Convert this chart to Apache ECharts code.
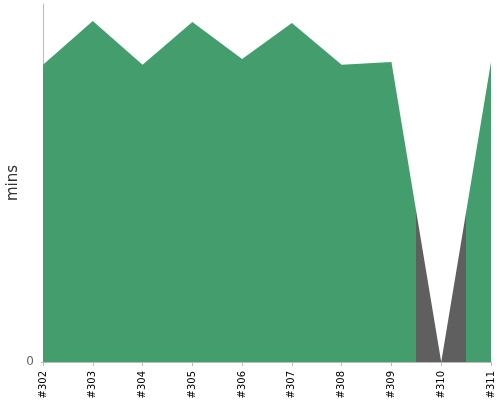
<!DOCTYPE html>
<html>
<head>
<meta charset="utf-8">
<script src="https://cdn.jsdelivr.net/npm/echarts@6/dist/echarts.min.js"></script>
<style>
  html, body { margin: 0; padding: 0; background: #fff; }
  #chart { width: 500px; height: 400px; }
</style>
</head>
<body>
<div id="chart"></div>
<script>
// build numbers and their durations in minutes
const builds = ['#302', '#303', '#304', '#305', '#306', '#307', '#308', '#309', '#310', '#311'];
const durations = [9.96, 11.43, 9.96, 11.40, 10.16, 11.36, 9.96, 10.06, 0, 10.06];
const failedBuilds = ['#310'];
const yTicks = [0];

const green = '#449d6c';
const gray = '#5f5f5f';

// gray band around each failed build, half a build on each side
// (value x axis so the half steps are not rounded to a category)
const pieces = failedBuilds.map(b => {
  const i = builds.indexOf(b);
  return { gt: i - 0.5, lte: i + 0.5, color: gray };
});

echarts.init(document.getElementById('chart')).setOption({
  animation: false,
  textStyle: { fontFamily: 'DejaVu Sans' },
  grid: { left: 43, right: 9, top: 4, bottom: 38, outerBoundsMode: 'none', containLabel: false },
  visualMap: {
    show: false,
    type: 'piecewise',
    seriesIndex: 0,
    dimension: 0,
    pieces: pieces,
    outOfRange: { color: green }
  },
  xAxis: {
    type: 'value',
    min: 0,
    max: builds.length - 1,
    interval: 1,
    offset: 3,
    splitLine: { show: false },
    axisLine: { lineStyle: { color: '#bbb' } },
    axisTick: { length: 4, lineStyle: { color: '#bbb' } },
    axisLabel: { rotate: 90, color: '#000', fontSize: 10, margin: 6, formatter: v => builds[v] || '' }
  },
  yAxis: {
    type: 'value',
    name: 'mins',
    nameLocation: 'middle',
    nameGap: 19,
    nameMoveOverlap: false,
    nameTextStyle: { fontSize: 15, color: '#333' },
    min: 0,
    max: 12,
    offset: 3,
    splitLine: { show: false },
    axisLine: { show: true, lineStyle: { color: '#bbb' } },
    axisTick: { show: true, length: 2, customValues: yTicks, lineStyle: { color: '#bbb' } },
    axisLabel: { color: '#666', fontSize: 12, margin: 6, customValues: yTicks }
  },
  series: [{
    type: 'line',
    data: durations.map((d, i) => [i, d]),
    symbol: 'none',
    lineStyle: { width: 0 },
    areaStyle: { opacity: 1 }
  }]
});
</script>
</body>
</html>
